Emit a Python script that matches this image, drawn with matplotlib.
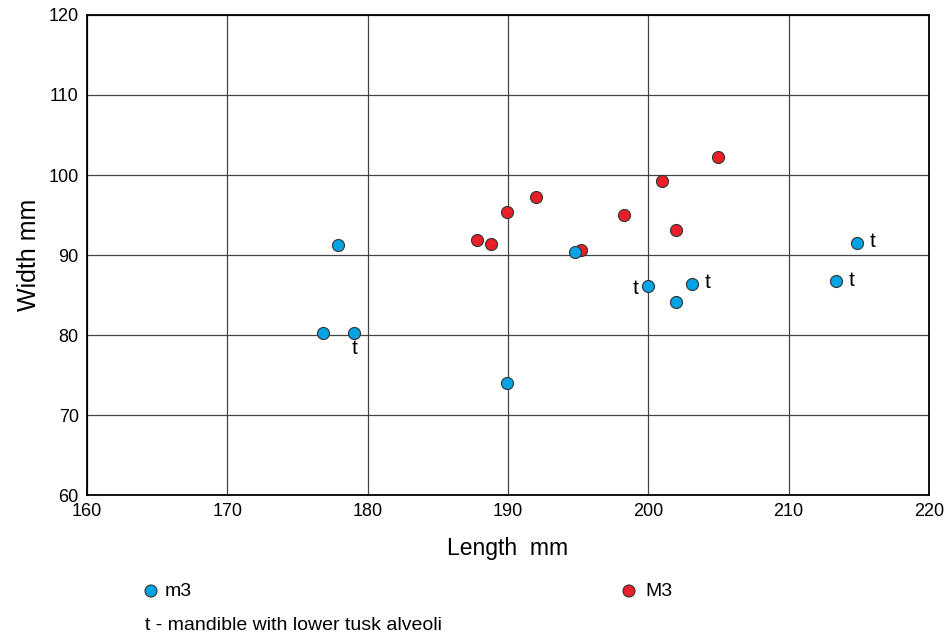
import matplotlib
matplotlib.use('Agg')
import matplotlib.pyplot as plt

plt.rcParams['font.family'] = ['Liberation Sans', 'DejaVu Sans']

# lower third molars (m3)
m3_len = [176.8, 177.9, 179.0, 189.9, 194.8, 200.0, 202.0, 203.1, 213.4, 214.9]
m3_wid = [80.2, 91.2, 80.2, 74.0, 90.4, 86.1, 84.1, 86.4, 86.7, 91.5]
# 't' marks: mandible with lower tusk alveoli
m3_tusk = ['', '', 'below', '', '', 'left', '', 'right', 'right', 'right']

# upper third molars (M3)
M3_len = [187.8, 188.8, 189.9, 192.0, 195.2, 198.3, 201.0, 202.0, 205.0]
M3_wid = [91.9, 91.4, 95.4, 97.2, 90.6, 95.0, 99.2, 93.1, 102.2]

blue = '#00a3e4'
red = '#e8202a'

fig = plt.figure(figsize=(9.48, 6.38), dpi=100)
ax = fig.add_axes([0.0918, 0.2241, 0.888, 0.7524])

ax.set_xlim(160, 220)
ax.set_ylim(60, 120)
ax.set_xticks(range(160, 221, 10))
ax.set_yticks(range(60, 121, 10))
ax.grid(True, color='#444444', lw=0.9)
ax.set_axisbelow(True)
ax.tick_params(length=0, labelsize=13, pad=6)
for s in ax.spines.values():
    s.set_linewidth(1.3)

mk = dict(s=75, edgecolors='#333333', linewidths=0.8)
ax.scatter(M3_len, M3_wid, c=red, zorder=3, **mk)
ax.scatter(m3_len, m3_wid, c=blue, zorder=3, **mk)

for x, y, pos in zip(m3_len, m3_wid, m3_tusk):
    if pos == 'right':
        ax.annotate('t', (x, y), xytext=(9, 1), textcoords='offset points',
                    ha='left', va='center', fontsize=15)
    elif pos == 'left':
        ax.annotate('t', (x, y), xytext=(-7, -2), textcoords='offset points',
                    ha='right', va='center', fontsize=15)
    elif pos == 'below':
        ax.annotate('t', (x, y), xytext=(1, -11), textcoords='offset points',
                    ha='center', va='center', fontsize=15)

ax.set_xlabel('Length  mm', fontsize=16.5, labelpad=12)
ax.set_ylabel('Width mm', fontsize=18, labelpad=5)

# legend below the plot
ly = 1 - 591 / 638
ax.scatter([151 / 948, 629 / 948], [ly, ly], c=[blue, red], transform=fig.transFigure,
           clip_on=False, zorder=3, **mk)
fig.text(165 / 948, ly, 'm3', fontsize=14, ha='left', va='center')
fig.text(645 / 948, ly, 'M3', fontsize=14, ha='left', va='center')
fig.text(145 / 948, 1 - 626 / 638, 't - mandible with lower tusk alveoli',
         fontsize=14, ha='left', va='center')

fig.savefig('out.png', dpi=100)
